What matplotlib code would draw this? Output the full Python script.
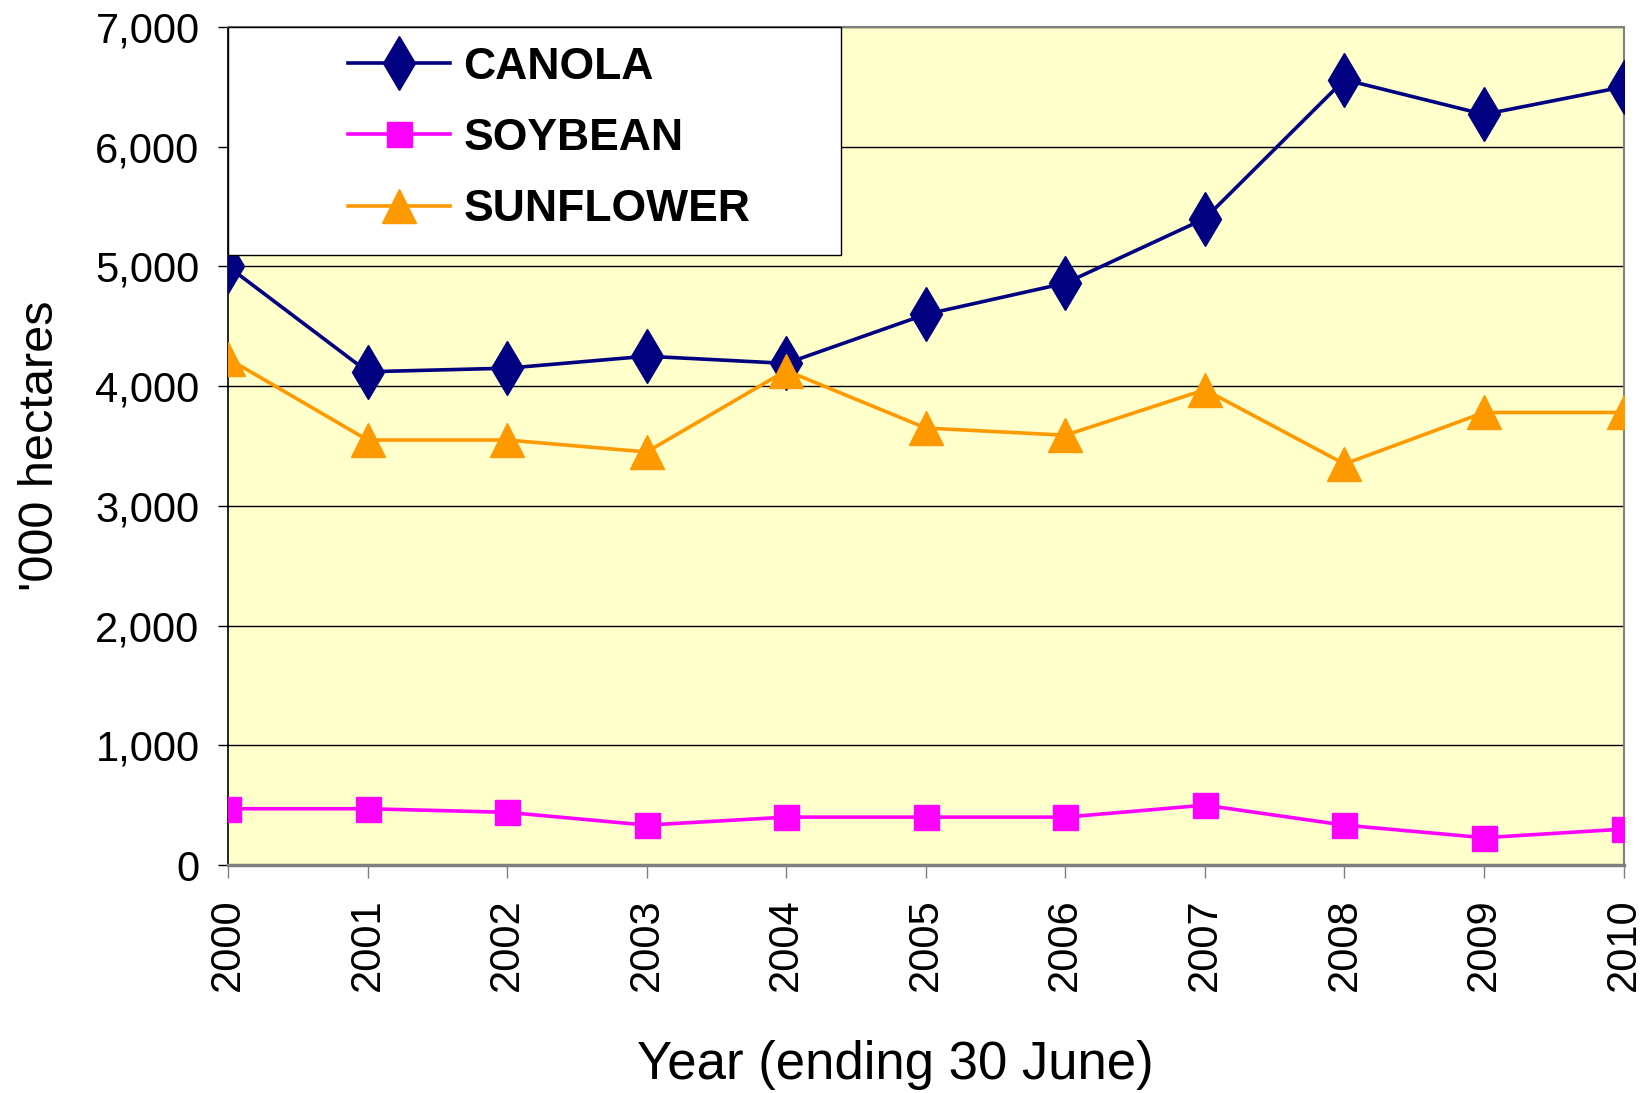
import matplotlib
matplotlib.use("Agg")
import matplotlib.pyplot as plt
from matplotlib.patches import Rectangle
from matplotlib.ticker import FuncFormatter

years = [2000, 2001, 2002, 2003, 2004, 2005, 2006, 2007, 2008, 2009, 2010]
canola = [5000, 4120, 4150, 4250, 4190, 4600, 4860, 5400, 6560, 6270, 6500]
soybean = [470, 470, 440, 333, 400, 400, 400, 500, 333, 228, 300]
sunflower = [4230, 3550, 3550, 3450, 4130, 3650, 3590, 3970, 3350, 3780, 3780]

plt.rcParams['font.family'] = ['Liberation Sans', 'DejaVu Sans']

fig = plt.figure(figsize=(16.45, 10.93), dpi=100)
ax = fig.add_axes([0.1386, 0.2086, 0.8484, 0.7667])
ax.set_facecolor('#FFFFCC')

ax.plot(years, canola, color='#000080', lw=2.6, marker='d', ms=27,
        mfc='#000080', mec='#000080', label='CANOLA', zorder=3)
ax.plot(years, soybean, color='#FF00FF', lw=2.6, marker='s', ms=18,
        mfc='#FF00FF', mec='#FF00FF', label='SOYBEAN', zorder=3)
ax.plot(years, sunflower, color='#FF9900', lw=2.6, marker='^', ms=25,
        mfc='#FF9900', mec='#FF9900', label='SUNFLOWER', zorder=3)

ax.set_xlim(2000, 2010)
ax.set_ylim(0, 7000)
ax.set_xticks(years)
ax.set_yticks(range(0, 7001, 1000))
ax.yaxis.set_major_formatter(FuncFormatter(lambda v, p: f'{int(v):,}'))
ax.grid(axis='y', color='black', lw=1.0, zorder=1)
ax.set_axisbelow(True)

ax.tick_params(axis='y', labelsize=30, length=7.5, width=1, pad=13)
ax.tick_params(axis='x', labelsize=30, length=9, width=1, pad=15,
               labelrotation=90, color='#808080')

for s in ['top', 'right']:
    ax.spines[s].set_color('#808080')
    ax.spines[s].set_linewidth(1.5)
ax.spines['bottom'].set_color('#808080')
ax.spines['bottom'].set_linewidth(2.5)
ax.spines['left'].set_color('black')
ax.spines['left'].set_linewidth(1.2)

ax.set_ylabel("'000 hectares", fontsize=35)
ax.yaxis.set_label_coords(-0.118, 0.5)
ax.set_xlabel('Year (ending 30 June)', fontsize=38)
ax.xaxis.set_label_coords(0.478, -0.209)

# legend box
ax.add_patch(Rectangle((0, 0.728), 0.439, 0.272, transform=ax.transAxes,
                       facecolor='white', edgecolor='black', lw=1, zorder=4,
                       clip_on=False))
leg = ax.legend(loc='center', bbox_to_anchor=(0.230, 0.867), frameon=False,
                prop={'size': 32, 'weight': 'bold'}, handlelength=2.3,
                handletextpad=0.3, labelspacing=0.68)
leg.set_zorder(5)

fig.savefig('out.png', dpi=100)
